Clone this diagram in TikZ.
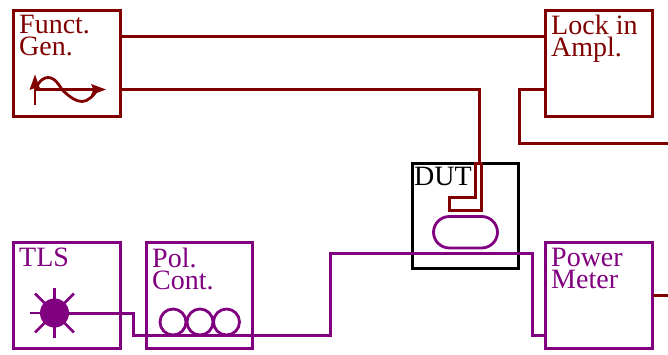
\documentclass[tikz,border=0pt]{standalone}
\usepackage{fontspec}
\setmainfont{Liberation Serif}
\definecolor{dred}{HTML}{800000}
\definecolor{dpur}{HTML}{800080}
\tikzset{
  x=1pt,y=-1pt,
  boxn/.style={draw,line width=3pt,outer sep=0pt,minimum width=107pt,minimum height=106pt,inner sep=0pt,anchor=north west},
  lab/.style={anchor=north west,inner sep=0pt,align=left,font=\fontsize{28}{22}\selectfont},
  cable/.style={line width=3pt,line join=miter},
  finecable/.style={line width=2.8pt,line join=miter}
}
\begin{document}
\begin{tikzpicture}
\useasboundingbox (0,0) rectangle (668,354);
% boxes
\node[boxn,color=dred] (fg) at (13.5,10.5) {};
\node[boxn,color=dred] (li) at (545.5,10.5) {};
\node[boxn,color=dpur] (tls) at (13.5,242.5) {};
\node[boxn,color=dpur,minimum width=106pt] (pc) at (146.5,242.5) {};
\node[boxn,color=dpur] (pm) at (545.5,242.5) {};
\node[boxn,color=black,minimum width=106pt,minimum height=105pt] (dut) at (412.5,163.5) {};
% labels
\node[lab,text=dred] (fgt) at (19,15) {Funct.\\Gen.};
\node[lab,text=dred] (lit) at (551,15) {Lock in\\Ampl.};
\node[lab,text=dpur] (tlst) at (19,247.5) {TLS};
\node[lab,text=dpur] (pct) at (152,247.5) {Pol.\\Cont.};
\node[lab,text=dpur] (pmt) at (551,247.5) {Power\\Meter};
\node[lab,text=black] (dutt) at (414,167) {DUT};
% free ends and sources
\coordinate (e1) at (668,143.5);
\coordinate (e2) at (668,295.5);
\coordinate (src) at (54.5,313);
% red wires
\draw[cable,dred] (fg.east |- 0,36.5) -- (li.west |- 0,36.5);
\draw[cable,dred] (li.west |- 0,89.5) -- (519.5,89.5) -- (519.5,143.5) -- (e1);
\draw[cable,dred] (pm.east |- 0,295.5) -- (e2);
\draw[cable,dred] (fg.east |- 0,89.5) -- (479.5,89.5) -- (479.5,163.5);
\draw[finecable,dred] (475.5,163.5) -- (475.5,197.5) -- (449.5,197.5) -- (449.5,210.5) -- (481.5,210.5) -- (481.5,163.5) -- cycle;
% DUT ring
\draw[finecable,dpur,rounded corners=15.9pt] (433.5,216.5) rectangle (497.5,248);
% purple wire
\draw[cable,dpur] (src) -- (133.5,313) -- (133.5,335.5) -- (330.5,335.5) -- (330.5,253.5) -- (532.5,253.5) -- (532.5,335.5) -- (pm.west |- 0,335.5);
% source
\fill[dpur] (src) circle (14.5);
\foreach \a in {0,90,180,270}
  \draw[line width=2.8pt,dpur] (src) -- ++(\a:25);
\foreach \a in {45,135,225,315}
  \draw[line width=2.8pt,dpur] (src) -- ++(\a:27.5);
% polarization loops
\foreach \cx in {173,200,226.5}
  \draw[line width=2.8pt,dpur] (\cx,322) circle (13);
% icon
\draw[line width=2.8pt,dred] (35,105) -- (35,84);
\fill[dred] (35,74.5) -- (40.5,90) -- (35,88) -- (29.5,90) -- cycle;
\draw[line width=2.8pt,dred] (35,89.5) -- (95,89.5);
\fill[dred] (106,89.5) -- (91,84) -- (93.5,89.5) -- (91,95) -- cycle;
\draw[line width=2.8pt,dred] (35,89) .. controls (40,80) and (44,77.5) .. (48,77.5) .. controls (57,77.5) and (60,89) .. (65,92.5) .. controls (70,97) and (76,101.5) .. (82,101.5) .. controls (88,101.5) and (93,96) .. (98,89);
\end{tikzpicture}
\end{document}
